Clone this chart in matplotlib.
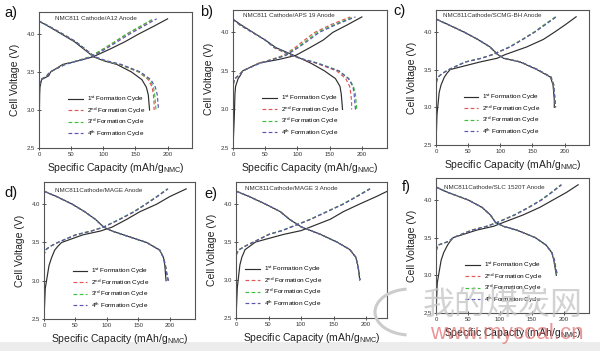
import numpy as np
import matplotlib
matplotlib.use('Agg')
import matplotlib.pyplot as plt
from matplotlib.lines import Line2D
from matplotlib.patches import Arc

# fonts - arial-like text everywhere, CJK only for the watermark
plt.rcParams['font.family'] = ['Liberation Sans', 'DejaVu Sans']
plt.rcParams['mathtext.fontset'] = 'custom'
plt.rcParams['mathtext.rm'] = 'Liberation Sans'
plt.rcParams['mathtext.it'] = 'Liberation Sans:italic'

# ---------------- data ----------------
# voltage grids (V) the capacities below were read at
CH1_V = [2.5, 2.9, 3.2, 3.3, 3.4, 3.45, 3.5, 3.6, 3.65, 3.7, 3.8, 3.9, 4.0, 4.1, 4.2]
CHX_V = [3.25, 3.35, 3.4, 3.45, 3.5, 3.6, 3.65, 3.7, 3.8, 3.9, 4.0, 4.1, 4.2]
DIS_V = [4.17, 4.1, 4.0, 3.9, 3.8, 3.7, 3.65, 3.6, 3.5, 3.4, 3.3, 3.2, 3.1, 3.0]

# charge capacity (mAh/g), cycle 1 on CH1_V, cycles 2-4 on CHX_V
A_CHARGE = [[0, 0.5, 1, 1.5, 4, 15, 18, 37, 62, 84, 110, 134, 155, 178, 200],
            [0, 1, 3, 12, 17, 40, 60, 80, 100, 119, 137, 158, 179],
            [0, 1, 3, 12, 17, 40, 60, 79, 99, 118, 136, 157, 178],
            [0, 1, 3, 12, 17, 41, 62, 82, 103, 122, 141, 162, 183]]
B_CHARGE = [[0, 2, 3, 4, 8, 12, 15, 40, 72, 97, 119, 140, 155, 178, 200],
            [0, 1, 3, 10, 15, 40, 60, 78, 96, 111, 127, 152, 182],
            [0, 1, 3, 10, 15, 41, 62, 80, 99, 115, 131, 157, 187],
            [0, 1, 3, 10, 15, 42, 63, 82, 101, 118, 134, 160, 190]]
C_CHARGE = [[0, 1.5, 5, 8, 13, 17, 22, 68, 95, 108, 141, 167, 185, 202, 218],
            [0, 1, 3, 10, 20, 45, 70, 88, 115, 135, 154, 170, 187],
            [0, 1, 3, 10, 20, 45, 70, 88, 114, 134, 153, 169, 186],
            [0, 1, 3, 10, 20, 46, 71, 89, 115, 135, 154, 171, 187]]
D_CHARGE = [[0, 2, 8, 12, 17, 22, 28, 62, 90, 108, 131, 152, 179, 200, 226],
            [0, 0.5, 2, 10, 22, 50, 75, 94, 120, 143, 162, 180, 197],
            [0, 0.5, 2, 10, 22, 50, 75, 94, 119, 142, 161, 179, 196],
            [0, 0.5, 2, 10, 22, 51, 76, 95, 120, 143, 162, 180, 197]]
E_CHARGE = [[0, 2, 6, 9, 14, 22, 30, 73, 100, 115, 145, 165, 190, 216, 240],
            [0, 1, 5, 15, 27, 50, 70, 85, 115, 140, 165, 186, 206],
            [0, 1, 5, 15, 27, 50, 70, 85, 114, 139, 164, 185, 205],
            [0, 1, 5, 15, 27, 51, 71, 86, 115, 140, 165, 186, 206]]
F_CHARGE = [[0, 2, 8, 12, 18, 22, 27, 64, 90, 105, 136, 162, 183, 204, 222],
            [0, 1, 3, 20, 27, 56, 79, 95, 123, 145, 165, 181, 196],
            [0, 1, 3, 20, 27, 56, 79, 95, 122, 144, 164, 180, 195],
            [0, 1, 3, 20, 27, 57, 80, 96, 123, 145, 165, 181, 196]]

# discharge capacity (mAh/g) on DIS_V, cycles 1-4
A_DISCHARGE = [[0, 15, 35, 55, 70, 85, 100, 121, 144, 160, 167, 170, 171, 172],
               [0, 16, 37, 57, 72, 86, 102, 125, 155, 170, 176, 178, 179, 179],
               [0, 16, 37, 57, 72, 86, 102, 126, 156, 172, 178, 180, 181, 182],
               [0, 16, 37, 57, 72, 87, 104, 128, 158, 174, 181, 184, 185, 186]]
B_DISCHARGE = [[0, 12, 31, 50, 67, 95, 108, 121, 142, 159, 166, 168, 169, 170],
               [0, 10, 30, 50, 64, 90, 108, 129, 161, 175, 181, 183, 184, 184],
               [0, 10, 30, 50, 65, 92, 110, 132, 165, 180, 187, 190, 191, 192],
               [0, 10, 30, 50, 65, 92, 110, 131, 164, 179, 186, 188, 189, 190]]
C_DISCHARGE = [[0, 18, 43, 65, 84, 96, 105, 131, 157, 178, 182, 183, 184, 184],
               [0, 18, 43, 65, 84, 96, 106, 132, 158, 179, 183, 184, 185, 186],
               [0, 18, 43, 65, 84, 96, 106, 132, 158, 179, 183, 184, 185, 186],
               [0, 18, 43, 65, 84, 96, 106, 132, 158, 179, 183, 184, 185, 186]]
D_DISCHARGE = [[0, 20, 45, 65, 82, 95, 108, 126, 163, 184, 190, 192, 193, 194],
               [0, 20, 45, 65, 82, 95, 108, 126, 163, 184, 190, 193, 195, 197],
               [0, 20, 45, 65, 82, 95, 108, 126, 163, 184, 190, 193, 195, 197],
               [0, 20, 45, 65, 82, 95, 108, 126, 163, 184, 190, 193, 195, 198]]
E_DISCHARGE = [[0, 20, 45, 68, 82, 100, 115, 130, 155, 175, 184, 187, 189, 190],
               [0, 20, 45, 68, 82, 100, 115, 130, 155, 175, 184, 187, 189, 190],
               [0, 20, 45, 68, 82, 100, 115, 130, 155, 175, 184, 187, 189, 190],
               [0, 20, 45, 68, 82, 100, 115, 130, 155, 175, 184, 187, 189, 191]]
F_DISCHARGE = [[0, 18, 50, 72, 85, 93, 105, 126, 155, 172, 181, 184, 186, 188],
               [0, 18, 50, 72, 85, 93, 105, 126, 155, 172, 181, 185, 187, 189],
               [0, 18, 50, 72, 85, 93, 105, 126, 155, 172, 181, 185, 187, 189],
               [0, 18, 50, 72, 85, 93, 105, 126, 155, 172, 181, 185, 187, 190]]

PANEL_LETTERS = ['a)', 'b)', 'c)', 'd)', 'e)', 'f)']
PANEL_TITLES = ['NMC811 Cathode/A12 Anode', 'NMC811 Cathode/APS 19 Anode',
                'NMC811Cathode/SCMG-BH Anode', 'NMC811Cathode/MAGE Anode',
                'NMC811Cathode/MAGE 3 Anode', 'NMC811Cathode/SLC 1520T Anode']
CYCLE_LABELS = [r'1$^{\rm st}$ Formation Cycle', r'2$^{\rm nd}$ Formation Cycle',
                r'3$^{\rm rd}$ Formation Cycle', r'4$^{\rm th}$ Formation Cycle']
X_TICKS = [0, 50, 100, 150, 200]
Y_TICKS = [2.5, 3.0, 3.5, 4.0]

# ---------------- layout (pixels of a 600x351 canvas) ----------------
W, H = 600, 351
# left, top, right, bottom of each plot box
BOXES = [(39, 12, 192, 148), (233, 10, 387, 148), (436, 10, 589, 145),
         (44, 182, 195, 319), (236, 182, 387, 318), (436, 178, 589, 313)]
XMAX = [238, 239, 238, 240, 232, 239]
LETTER_POS = [(4, 6), (200, 5), (393, 4), (4, 186), (204, 187), (402, 180)]
TITLE_POS = [(0.105, 0.955), (0.065, 0.96), (0.045, 0.96),
             (0.07, 0.94), (0.06, 0.95), (0.05, 0.93)]
# upper left corner of each legend, axes fraction
LEGEND_POS = [(0.19, 0.395), (0.19, 0.395), (0.18, 0.39),
              (0.19, 0.385), (0.06, 0.395), (0.19, 0.39)]

COLORS = ['#2e2e2e', '#e05555', '#3dbf3d', '#5a55b0']
STYLES = ['-', (0, (3.2, 2)), (0, (3.2, 2)), (0, (3.2, 2))]


def plotPanel(fig, i, charge, discharge):
	l, t, r, b = BOXES[i]
	ax = fig.add_axes([l / W, 1 - b / H, (r - l) / W, (b - t) / H])

	# draw the 4 cycles, cycle 4 ends up on top
	for c in range(4):
		v = CH1_V if c == 0 else CHX_V
		ax.plot(charge[c], v, color=COLORS[c], linestyle=STYLES[c], lw=0.85)
		ax.plot(discharge[c], DIS_V, color=COLORS[c], linestyle=STYLES[c], lw=0.85)

	ax.set_xlim(0, XMAX[i])
	ax.set_ylim(2.5, 4.29)
	ax.set_xticks(X_TICKS)
	ax.set_yticks(Y_TICKS)
	ax.tick_params(direction='inout', length=3, width=0.6, labelsize=4.3,
		pad=1.5, colors='#333333')
	for s in ax.spines.values():
		s.set_linewidth(0.8)
		s.set_color('#555555')

	ax.set_xlabel(r'Specific Capacity (mAh/g$_{\rm NMC}$)', fontsize=7.5,
		labelpad=3, color='#222222')
	ax.set_ylabel('Cell Voltage (V)', fontsize=7.5, labelpad=5, color='#222222')

	ax.text(TITLE_POS[i][0], TITLE_POS[i][1], PANEL_TITLES[i], transform=ax.transAxes,
		fontsize=4.5, va='center', ha='left', color='#333333')

	handles = [Line2D([], [], color=COLORS[c], linestyle=STYLES[c], lw=0.85)
		for c in range(4)]
	ax.legend(handles, CYCLE_LABELS, loc='upper left', bbox_to_anchor=LEGEND_POS[i],
		frameon=False, fontsize=4.6, handlelength=2.3, handletextpad=0.6,
		labelspacing=0.18, borderaxespad=0, borderpad=0)

	fig.text(LETTER_POS[i][0] / W, 1 - LETTER_POS[i][1] / H, PANEL_LETTERS[i],
		fontsize=10.5, va='top', ha='left', color='#111111')
	return ax


def plotWatermark(fig):
	# grey strip at the very bottom of the screenshot
	fig.patches.append(plt.Rectangle((0, 0), 1, 9 / H, transform=fig.transFigure,
		facecolor='#ececec', edgecolor='none', zorder=-1))
	# grey swoosh of the site logo
	fig.patches.append(Arc((410 / W, 1 - 312 / H), 70 / W, 46 / H, theta1=95,
		theta2=265, transform=fig.transFigure, color='#cccccc', lw=2.2, zorder=9))
	fig.text(503 / W, 1 - 305 / H, '我的煤炭网', fontsize=23,
		family=['Noto Sans CJK SC', 'DejaVu Sans'], color='#c4c4c4', alpha=0.75,
		ha='center', va='center', zorder=10)
	fig.text(507 / W, 1 - 333 / H, 'www.mycoal.cn', fontsize=16,
		color='#e06a6a', alpha=0.7, ha='center', va='center', zorder=10)


if __name__ == '__main__':
	fig = plt.figure(figsize=(6, 3.51), dpi=100)
	charges = [A_CHARGE, B_CHARGE, C_CHARGE, D_CHARGE, E_CHARGE, F_CHARGE]
	discharges = [A_DISCHARGE, B_DISCHARGE, C_DISCHARGE, D_DISCHARGE,
		E_DISCHARGE, F_DISCHARGE]
	for i in range(6):
		plotPanel(fig, i, charges[i], discharges[i])
	plotWatermark(fig)
	fig.savefig('out.png', dpi=100)
